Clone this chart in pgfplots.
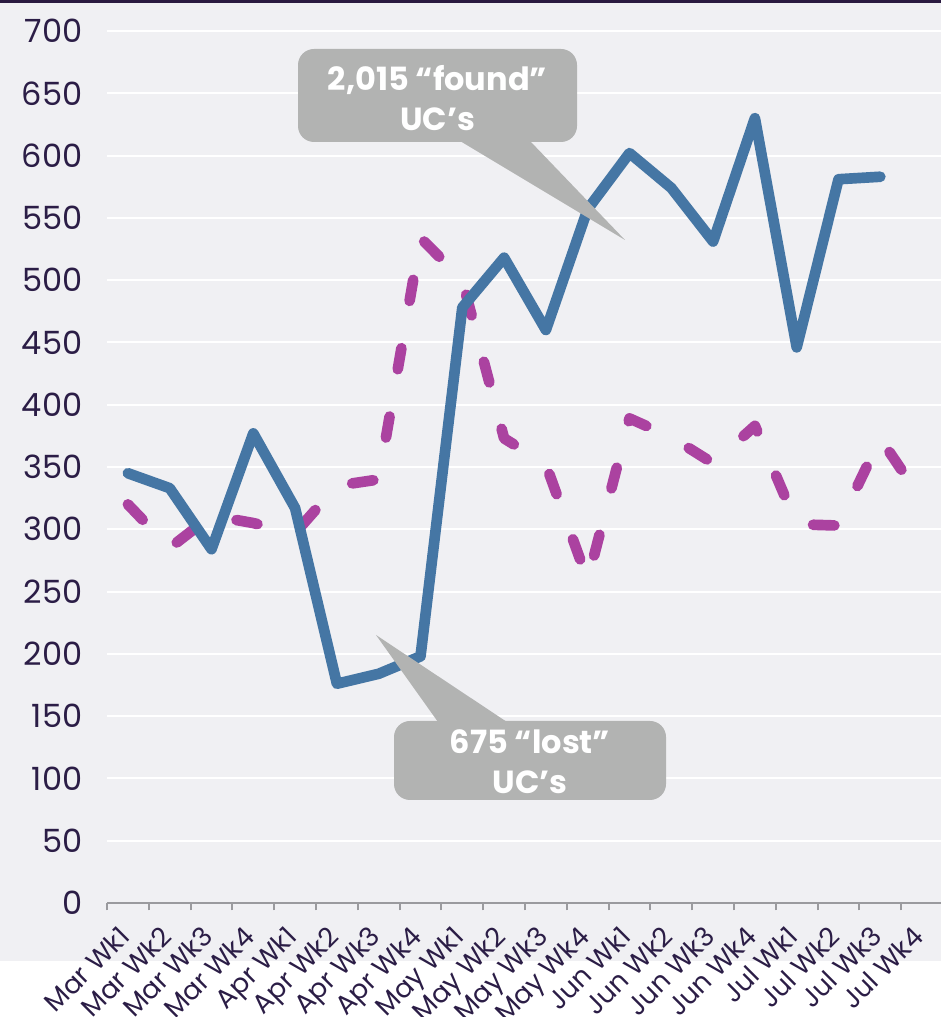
\documentclass[border=0pt]{standalone}
\usepackage{fontspec}
\setmainfont{Poppins}
\usepackage{pgfplots}
\pgfplotsset{compat=1.18}
\definecolor{bg}{HTML}{F0F0F3}
\definecolor{topline}{HTML}{2A1A40}
\definecolor{txt}{HTML}{2B1D46}
\definecolor{lineblue}{HTML}{4576A4}
\definecolor{mag}{HTML}{AB42A0}
\definecolor{callout}{HTML}{B2B3B2}
\definecolor{axisgray}{HTML}{9A9A9E}
\begin{document}
\begin{tikzpicture}[x=0.75pt,y=0.75pt]
\useasboundingbox (0,0) rectangle (941,1017);
\clip (0,0) rectangle (941,1017);
\fill[bg] (0,56) rectangle (941,1017);
\fill[topline] (0,1013.5) rectangle (941,1017);
\begin{axis}[
  at={(80.25pt,85.5pt)}, anchor=south west,
  scale only axis, width=627pt, height=654pt,
  xmin=-0.5, xmax=19.5, ymin=0, ymax=700,
  axis x line*=bottom, axis y line*=left,
  y axis line style={draw=none},
  x axis line style={axisgray, line width=1.5pt},
  ytick={0,50,...,700},
  xtick={0,...,19},
  xticklabels={Mar Wk1,Mar Wk2,Mar Wk3,Mar Wk4,Apr Wk1,Apr Wk2,Apr Wk3,Apr Wk4,May Wk1,May Wk2,May Wk3,May Wk4,Jun Wk1,Jun Wk2,Jun Wk3,Jun Wk4,Jul Wk1,Jul Wk2,Jul Wk3,Jul Wk4},
  minor xtick={-0.5,0.5,...,19.5},
  major tick length=0pt, minor tick length=5.5pt,
  tick align=outside,
  minor tick style={axisgray, line width=1.5pt},
  major tick style={draw=none},
  ymajorgrids, grid style={white, line width=1.5pt},
  /pgf/number format/assume math mode=true,
  yticklabel style={font=\fontsize{24}{28}\selectfont, text=txt, xshift=-15pt},
  xticklabel style={font=\fontsize{20}{24}\selectfont, text=txt, inner sep=0pt, xshift=-8pt, yshift=-16pt, rotate=45, anchor=north east},
  clip=false,
]
\addplot[mag, line width=8pt, line cap=round, line join=round, dash pattern=on 16pt off 36pt] coordinates {
(0,320) (1,285) (2,311) (3,305) (4,297) (5,335) (6,340) (7,534) (8,500) (9,373)
(10,352) (11,259) (12,389) (13,374) (14,353) (15,383) (16,304) (17,303) (18,373) (19,323)};
\addplot[lineblue, line width=8pt, line cap=round, line join=round] coordinates {
(0,345) (1,333) (2,284) (3,377) (4,317) (5,176) (6,184) (7,198) (8,478) (9,518)
(10,460) (11,557) (12,602) (13,574) (14,531) (15,630) (16,446) (17,581) (18,583)};
\end{axis}
% callout 1
\fill[callout, rounded corners=12] (298,875) rectangle (577,968);
\fill[callout] (460,876) -- (625,777) -- (530,876) -- cycle;
\node[text=white, font=\bfseries\fontsize{24}{30}\selectfont, align=center, inner sep=0pt] at (437.5,919) {2,015 “found”\\UC’s};
% callout 2
\fill[callout, rounded corners=12] (394,217) rectangle (666,296);
\fill[callout] (438,295) -- (376,382) -- (507,295) -- cycle;
\node[text=white, font=\bfseries\fontsize{24}{30}\selectfont, align=center, inner sep=0pt] at (530,255) {675 “lost”\\UC’s};
\end{tikzpicture}
\end{document}
